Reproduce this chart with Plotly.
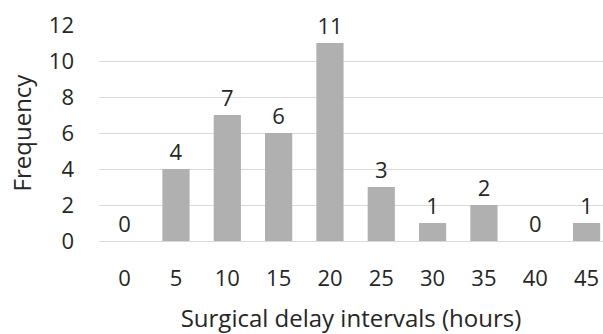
import plotly.graph_objects as go

categories = ["0", "5", "10", "15", "20", "25", "30", "35", "40", "45"]
frequency = [0, 4, 7, 6, 11, 3, 1, 2, 0, 1]

positions = list(range(len(categories)))

fig = go.Figure()
fig.add_trace(go.Bar(
    x=positions,
    y=frequency,
    text=[str(v) for v in frequency],
    textposition="outside",
    cliponaxis=False,
    textfont=dict(size=22, color="#262626", family="Open Sans"),
    marker=dict(color="#b0b0b0", line=dict(width=0)),
    width=0.53,
))

fig.update_layout(
    width=603, height=334,
    margin=dict(l=99, r=0, t=25, b=93),
    plot_bgcolor="white", paper_bgcolor="white",
    font=dict(family="Open Sans", color="#262626", size=22),
    showlegend=False,
    xaxis=dict(
        range=[-0.5, 9.32], automargin=False,
        tickmode="array", tickvals=positions, ticktext=categories,
        showgrid=False, zeroline=False, showline=False,
        ticks="", ticklabelstandoff=22,
        tickfont=dict(size=22),
        title=dict(text="Surgical delay intervals (hours)", font=dict(size=24), standoff=20),
    ),
    yaxis=dict(
        range=[0, 12], dtick=2, automargin=False,
        showgrid=True, gridcolor="#d9d9d9", gridwidth=1,
        zeroline=True, zerolinecolor="#d9d9d9", zerolinewidth=1,
        showline=False, ticks="", ticklabelstandoff=24,
        tickfont=dict(size=22),
        title=dict(text="Frequency", font=dict(size=24), standoff=10),
    ),
)

fig.write_html("out.html", config={"displayModeBar": False},
               post_script="document.body.style.margin='0';")
